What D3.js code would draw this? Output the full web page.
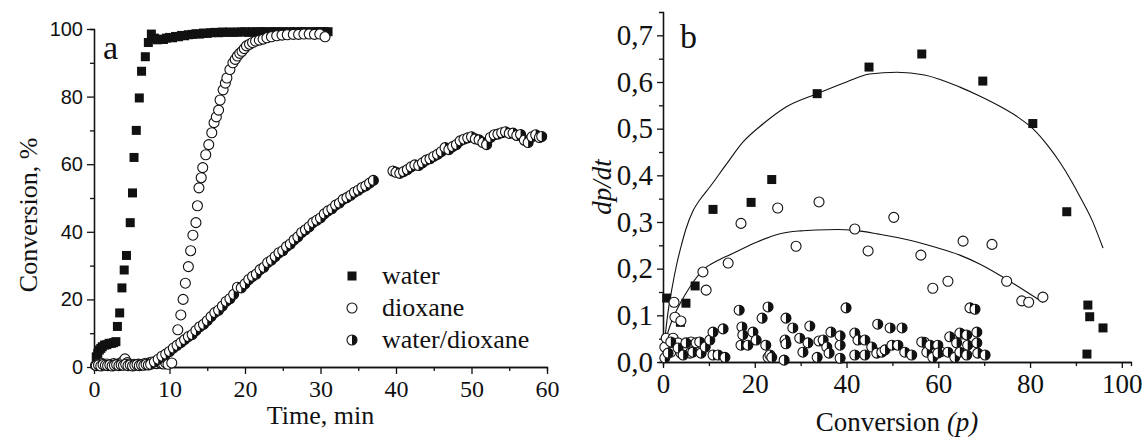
<!DOCTYPE html>
<html>
<head>
<meta charset="utf-8">
<script src="https://cdn.jsdelivr.net/npm/d3@7"></script>
<style>
  body { margin: 0; background: #fff; }
  svg { display: block; }
</style>
</head>
<body>
<div class="canvas"></div>
<script>
// ---- panel a: conversion vs time ----
const waterT = [0.3, 0.5, 0.7, 0.9, 1.1, 1.4, 1.7, 2.0, 2.3, 2.6, 2.9, 3.1, 3.4, 3.7, 4.0, 4.3, 4.8, 5.1, 5.3, 5.6, 6.0, 6.3, 6.8, 7.2, 7.6,
  8.0, 8.4, 8.8, 9.2, 9.6, 10.0, 10.4, 10.8, 11.2, 11.6, 12.0, 12.5, 13.0, 13.5, 14.0, 14.5, 15.0, 15.5, 16.0, 16.5, 17.0, 17.5, 18.0,
  18.5, 19.0, 19.5, 20.0, 20.5, 21.0, 21.5, 22.0, 22.5, 23.0, 23.5, 24.0, 24.5, 25.0, 25.5, 26.0, 26.5, 27.0, 27.5, 28.0, 28.5, 29.0,
  29.5, 30.0, 30.5, 31.0]
const waterC = [3.0, 4.0, 5.0, 5.5, 6.0, 6.5, 6.6, 7.0, 7.0, 7.2, 7.5, 12.0, 16.0, 23.4, 28.7, 33.0, 42.7, 51.5, 62.0, 70.0, 79.6, 87.5, 91.8, 96.0, 98.5,
  97.3, 96.8, 97.0, 96.9, 97.3, 97.5, 97.4, 97.8, 97.7, 98.1, 98.0, 98.3, 98.4, 98.6, 98.5, 98.8, 98.7, 98.9, 99.0, 98.9, 99.1, 99.0, 99.1,
  99.0, 99.1, 99.1, 99.2, 99.0, 99.2, 99.1, 99.2, 99.2, 99.1, 99.2, 99.2, 99.1, 99.2, 99.1, 99.2, 99.2, 99.1, 99.2, 99.2, 99.1, 99.2,
  99.2, 99.2, 99.2, 99.2]

const dioxT = [0.2, 0.5, 0.8, 1.1, 1.4, 1.7, 2.0, 2.3, 2.6, 2.9, 3.2, 3.5, 3.8, 4.1, 4.4, 4.7, 5.0, 5.3, 5.6, 5.9, 6.2, 6.5, 6.8, 7.1,
  7.4, 7.7, 8.0, 8.3, 8.6, 8.9, 9.2, 9.5, 9.8, 10.3,
  11.1, 11.5, 11.8, 12.1, 12.5, 12.8, 13.1, 13.5, 13.7, 13.9, 14.2, 14.4, 14.8, 15.2, 15.6, 15.9, 16.2, 16.5, 16.7, 17.1, 17.4, 17.6,
  18.0, 18.4, 18.7, 19.0, 19.3, 19.6, 19.9, 20.2, 20.6, 21.0, 21.4, 21.9, 22.4, 22.9, 23.5, 24.2, 24.9, 25.6, 26.4, 27.1, 27.8, 28.5,
  29.2, 29.9, 30.6]
const dioxC = [0.5, 0.8, 0.6, 1.0, 0.7, 0.9, 0.6, 0.8, 1.0, 0.7, 0.9, 1.2, 1.6, 2.4, 1.3, 0.9, 0.7, 0.8, 0.6, 0.9, 0.7, 0.8, 1.1, 0.9,
  1.3, 1.5, 1.2, 1.0, 1.4, 1.1, 0.9, 1.2, 0.8, 1.2,
  11.0, 15.4, 20.0, 24.8, 29.7, 34.4, 39.0, 42.7, 47.7, 53.0, 56.0, 59.0, 62.8, 65.8, 69.3, 72.3, 74.0, 76.0, 79.0, 82.0, 84.0, 85.5,
  88.0, 90.0, 91.0, 92.0, 92.8, 93.4, 94.2, 95.0, 95.5, 96.0, 96.4, 96.7, 97.0, 97.4, 97.7, 98.0, 98.2, 98.3, 98.4, 98.4, 98.5, 98.5,
  98.4, 98.5, 97.7]

const mixT = [0.3, 0.6, 0.9, 1.2, 1.5, 1.8, 2.1, 2.4, 2.7, 3.0, 3.3, 3.6, 3.9, 4.2, 4.5, 4.8, 5.1, 5.4, 5.7, 6.0, 6.3, 6.6, 6.9, 7.2,
  7.5, 8.0, 8.5, 9.0, 9.5, 10.0, 10.5, 11.0, 11.5, 12.0, 12.5, 13.0, 13.5, 14.0, 14.5, 15.0, 15.5, 16.0, 16.5, 17.0, 17.5, 18.0,
  18.5, 19.0, 19.5, 20.0, 20.5, 21.0, 21.5, 22.0, 22.5, 23.0, 23.5, 24.0, 24.5, 25.0, 25.5, 26.0, 26.5, 27.0, 27.5, 28.0, 28.5,
  29.0, 29.5, 30.0, 30.5, 31.0, 31.5, 32.0, 32.5, 33.0, 33.5, 34.0, 34.5, 35.0, 35.5, 36.0, 36.5, 37.0,
  39.6, 40.0, 40.5, 41.0, 41.5, 42.0, 42.5, 43.0, 43.5, 44.0, 44.5, 45.0, 45.5, 46.0, 46.5, 47.0, 47.5, 48.0, 48.5, 49.0, 49.5,
  50.0, 50.5, 51.0, 51.5, 52.0, 52.5, 53.0, 53.5, 54.0, 54.5, 55.0, 55.5, 56.0, 56.5, 57.0, 57.5, 58.0, 58.5, 59.0, 59.3]
const mixC = [0.4, 0.6, 0.3, 0.7, 0.5, 0.4, 0.6, 0.3, 0.5, 0.7, 0.4, 0.6, 0.5, 0.8, 0.4, 0.6, 0.3, 0.5, 0.7, 0.4, 0.6, 0.5, 0.8, 0.6,
  0.8, 1.5, 2.3, 3.2, 3.8, 4.6, 5.6, 6.4, 7.2, 8.1, 9.0, 9.6, 10.8, 11.9, 12.6, 13.7, 14.9, 16.1, 16.8, 18.0, 19.4, 20.2,
  21.5, 23.6, 23.4, 24.6, 25.9, 26.8, 27.5, 28.8, 29.5, 30.9, 31.6, 32.7, 33.8, 34.4, 35.6, 36.4, 37.6, 38.5, 39.8, 40.6, 41.5,
  42.7, 43.4, 44.1, 45.3, 46.2, 46.8, 47.9, 48.5, 49.6, 50.1, 50.8, 51.7, 52.3, 53.1, 53.6, 54.4, 55.2,
  58.0, 57.6, 57.3, 57.8, 58.4, 59.2, 59.8, 59.6, 60.4, 61.2, 61.6, 62.3, 62.9, 63.7, 64.9, 64.3, 65.2, 65.8, 66.9, 67.4, 67.8,
  68.1, 67.5, 67.2, 66.4, 65.8, 67.9, 68.7, 68.9, 69.3, 69.6, 69.1, 69.2, 68.5, 68.8, 67.1, 66.4, 68.1, 68.7, 67.9, 68.2]

const legendLabels = ['water', 'dioxane', 'water/dioxane']

// ---- panel b: rate vs conversion ----
const rateWaterP = [0.8, 3.8, 5.0, 7.0, 10.9, 19.2, 23.7, 33.6, 44.9, 56.4, 69.7, 80.6, 88.0, 92.6, 93.0, 95.9, 92.4]
const rateWaterV = [0.137, 0.085, 0.126, 0.163, 0.327, 0.342, 0.391, 0.575, 0.632, 0.660, 0.602, 0.511, 0.322, 0.122, 0.097, 0.073, 0.017]

const rateDioxP = [2.4, 2.6, 3.9, 8.7, 9.4, 14.2, 17.0, 25.0, 29.0, 34.0, 41.8, 44.7, 50.3, 56.2, 58.8, 62.1, 65.4, 71.7, 74.9, 78.2, 79.7, 82.8,
  0.4, 0.7, 1.7, 2.2, 3.3, 3.9, 4.8, 5.9, 6.1, 7.2, 22.9, 57.0, 65.0, 60.5]
const rateDioxV = [0.128, 0.096, 0.088, 0.193, 0.154, 0.212, 0.297, 0.330, 0.248, 0.343, 0.285, 0.238, 0.310, 0.229, 0.158, 0.173, 0.259, 0.252, 0.173, 0.131, 0.128, 0.139,
  0.032, 0.051, 0.021, 0.051, 0.041, 0.019, 0.030, 0.019, 0.043, 0.041, 0.010, 0.042, 0.060, 0.022]

const rateMixP = [0.4, 1.1, 1.7, 3.3, 4.4, 5.0, 6.5, 8.0, 8.3, 9.2, 10.2, 10.9, 10.9, 12.0, 13.1, 13.5, 16.6, 17.0, 17.2, 17.4, 18.5, 19.6,
  20.3, 21.6, 22.4, 22.9, 23.3, 23.7, 26.4, 26.6, 26.8, 26.8, 28.3, 29.8, 30.5, 31.6, 32.0, 33.6, 34.0, 34.9, 35.7, 36.2, 36.6,
  38.6, 38.6, 38.6, 39.9, 41.8, 41.8, 42.5, 44.0, 44.0, 45.5, 46.6, 46.8, 47.7, 48.4, 49.5, 49.9, 51.2, 52.1, 52.7, 54.2, 56.4,
  57.5, 58.2, 58.8, 59.9, 59.9, 62.1, 62.5, 63.6, 64.0, 64.7, 64.7, 66.2, 66.2, 66.4, 66.9, 68.0, 68.4, 68.4, 68.6, 70.2]
const rateMixV = [0.009, 0.019, 0.043, 0.030, 0.015, 0.041, 0.021, 0.043, 0.019, 0.032, 0.047, 0.064, 0.015, 0.015, 0.071, 0.010, 0.111, 0.036, 0.075, 0.058, 0.036, 0.064,
  0.047, 0.094, 0.036, 0.118, 0.015, 0.010, 0.004, 0.047, 0.094, 0.039, 0.073, 0.051, 0.021, 0.041, 0.077, 0.010, 0.045, 0.047, 0.032, 0.019, 0.064,
  0.056, 0.036, 0.008, 0.116, 0.062, 0.015, 0.047, 0.047, 0.015, 0.032, 0.019, 0.081, 0.021, 0.026, 0.073, 0.036, 0.036, 0.073, 0.021, 0.015, 0.043,
  0.021, 0.036, 0.010, 0.036, 0.019, 0.021, 0.054, 0.010, 0.041, 0.062, 0.021, 0.058, 0.015, 0.036, 0.116, 0.113, 0.064, 0.041, 0.019, 0.015]

// fitted curves
const fitWaterP = [0.2, 1, 2, 3, 4, 5, 6.6, 8, 10.2, 13.9, 17.5, 21.9, 26.9, 33.6, 40, 45, 51, 57, 64.7, 69, 73.4, 77, 80.6, 84, 86.5, 89, 91, 93.5, 95.9]
const fitWaterV = [0.03, 0.10, 0.16, 0.21, 0.25, 0.285, 0.325, 0.347, 0.375, 0.425, 0.472, 0.511, 0.547, 0.575, 0.600, 0.617, 0.621, 0.615, 0.589, 0.570, 0.548, 0.527, 0.500, 0.462, 0.428, 0.388, 0.352, 0.304, 0.244]
const fitDioxP = [0.3, 2, 4, 6, 8.8, 12, 15.3, 20, 25.5, 30, 33.5, 38, 41.8, 47, 53.8, 59, 64.7, 69, 73.4, 78, 82.8]
const fitDioxV = [0.04, 0.09, 0.13, 0.163, 0.198, 0.218, 0.233, 0.255, 0.275, 0.281, 0.283, 0.284, 0.282, 0.274, 0.261, 0.247, 0.229, 0.210, 0.186, 0.158, 0.128]

const svgWidth = 1145, svgHeight = 442
const ink = '#111'
const SERIF = "'Liberation Serif', 'Times New Roman', serif"
const SANS = "'Liberation Sans', Arial, sans-serif"

const svg = d3.select('.canvas')
  .append('svg')
  .attr('width', svgWidth)
  .attr('height', svgHeight)

// marker helpers
const halfArc = d3.arc()({ innerRadius: 0, outerRadius: 5, startAngle: 0, endAngle: Math.PI })

const drawSquares = (g, pts) => {
  g.selectAll(null).data(pts).enter().append('rect')
    .attr('x', d => d[0] - 4.5).attr('y', d => d[1] - 4.5)
    .attr('width', 9).attr('height', 9)
    .attr('fill', ink)
}
const drawOpen = (g, pts) => {
  g.selectAll(null).data(pts).enter().append('circle')
    .attr('cx', d => d[0]).attr('cy', d => d[1]).attr('r', 5)
    .attr('fill', '#fff').attr('stroke', ink).attr('stroke-width', 1.1)
}
const drawHalf = (g, pts) => {
  const m = g.selectAll(null).data(pts).enter().append('g')
    .attr('transform', d => `translate(${d[0]}, ${d[1]})`)
  m.append('circle').attr('r', 5).attr('fill', '#fff').attr('stroke', ink).attr('stroke-width', 1.1)
  m.append('path').attr('d', halfArc).attr('fill', ink)
}

const styleAxis = (g, family, size) => {
  g.attr('font-family', null).attr('font-size', null)
  g.select('.domain').attr('stroke', ink).attr('stroke-width', 1.3)
  g.selectAll('.tick line').attr('stroke', ink).attr('stroke-width', 1.3)
  g.selectAll('text').style('font-family', family).style('font-size', size + 'px').attr('fill', ink)
}

const addText = (g, txt, size, family) => g.append('text')
  .style('font-family', family || SERIF).style('font-size', size + 'px')
  .attr('fill', ink).text(txt)

// ================= panel a =================
const xa = d3.scaleLinear().domain([0, 60]).range([94, 547])
const ya = d3.scaleLinear().domain([0, 100]).range([367, 29])

const ga = svg.append('g')

ga.append('g').attr('transform', `translate(0, ${ya(0)})`)
  .call(d3.axisBottom(xa).tickValues(d3.range(5, 60, 10)).tickSize(4).tickFormat(''))
  .call(g => styleAxis(g, SERIF, 24))
ga.append('g').attr('transform', `translate(0, ${ya(0)})`)
  .call(d3.axisBottom(xa).tickValues(d3.range(0, 61, 10)).tickSize(7).tickSizeOuter(0).tickPadding(6))
  .call(g => styleAxis(g, SERIF, 24))

ga.append('g').attr('transform', `translate(${xa(0)}, 0)`)
  .call(d3.axisLeft(ya).tickValues(d3.range(10, 100, 20)).tickSize(4).tickFormat(''))
  .call(g => styleAxis(g, SANS, 20))
ga.append('g').attr('transform', `translate(${xa(0)}, 0)`)
  .call(d3.axisLeft(ya).tickValues(d3.range(0, 101, 20)).tickSize(7).tickSizeOuter(0).tickPadding(4))
  .call(g => styleAxis(g, SANS, 20))

const ptsA = (T, C) => T.map((t, i) => [xa(t), ya(C[i])])
drawSquares(ga.append('g'), ptsA(waterT, waterC))
drawOpen(ga.append('g'), ptsA(dioxT, dioxC))
drawHalf(ga.append('g'), ptsA(mixT, mixC))

addText(ga, 'a', 34).attr('x', 103).attr('y', 59)

addText(ga, 'Time, min', 26)
  .attr('x', (xa(0) + xa(60)) / 2).attr('y', 424).attr('text-anchor', 'middle')

addText(ga, 'Conversion, %', 26)
  .attr('transform', `translate(37, ${ya(45)}) rotate(-90)`).attr('text-anchor', 'middle')

// legend
const legend = ga.append('g').attr('transform', 'translate(352, 276)')
const legendDraw = [drawSquares, drawOpen, drawHalf]
legendLabels.forEach((lab, i) => {
  const row = legend.append('g').attr('transform', `translate(0, ${i * 32})`)
  legendDraw[i](row, [[0, 0]])
  addText(row, lab, 26).attr('x', 30).attr('y', 8)
})

// ================= panel b =================
const xb = d3.scaleLinear().domain([0, 102]).range([663, 1131])
const yb = d3.scaleLinear().domain([0, 0.75]).range([362, 12])
const comma = d => d3.format('.1f')(d).replace('.', ',')

const gb = svg.append('g')

gb.append('g').attr('transform', `translate(0, ${yb(0)})`)
  .call(d3.axisBottom(xb).tickValues(d3.range(10, 100, 20)).tickSize(4).tickFormat(''))
  .call(g => styleAxis(g, SERIF, 27))
gb.append('g').attr('transform', `translate(0, ${yb(0)})`)
  .call(d3.axisBottom(xb).tickValues(d3.range(0, 101, 20)).tickSize(6).tickSizeOuter(0).tickPadding(6))
  .call(g => styleAxis(g, SERIF, 27))

gb.append('g').attr('transform', `translate(${xb(0)}, 0)`)
  .call(d3.axisLeft(yb).tickValues(d3.range(0.05, 0.7, 0.1)).tickSize(4).tickFormat(''))
  .call(g => styleAxis(g, SERIF, 29))
gb.append('g').attr('transform', `translate(${xb(0)}, 0)`)
  .call(d3.axisLeft(yb).tickValues(d3.range(0, 0.71, 0.1)).tickSize(6).tickSizeOuter(0).tickPadding(4).tickFormat(comma))
  .call(g => styleAxis(g, SERIF, 29))

const line = d3.line().x(d => xb(d[0])).y(d => yb(d[1])).curve(d3.curveMonotoneX)
gb.append('path').datum(fitWaterP.map((p, i) => [p, fitWaterV[i]]))
  .attr('d', line).attr('fill', 'none').attr('stroke', ink).attr('stroke-width', 1.1)
gb.append('path').datum(fitDioxP.map((p, i) => [p, fitDioxV[i]]))
  .attr('d', line).attr('fill', 'none').attr('stroke', ink).attr('stroke-width', 1.1)

const ptsB = (P, V) => P.map((p, i) => [xb(p), yb(V[i])])
drawSquares(gb.append('g'), ptsB(rateWaterP, rateWaterV))
drawOpen(gb.append('g'), ptsB(rateDioxP, rateDioxV))
drawHalf(gb.append('g'), ptsB(rateMixP, rateMixV))

addText(gb, 'b', 34).attr('x', 680).attr('y', 48)

const xt = addText(gb, '', 27)
  .attr('x', (xb(0) + xb(102)) / 2).attr('y', 431).attr('text-anchor', 'middle')
xt.append('tspan').text('Conversion ')
xt.append('tspan').style('font-style', 'italic').text('(p)')

addText(gb, 'dp/dt', 27).style('font-style', 'italic')
  .attr('transform', `translate(611, ${yb(0.375)}) rotate(-90)`).attr('text-anchor', 'middle')
</script>
</body>
</html>
